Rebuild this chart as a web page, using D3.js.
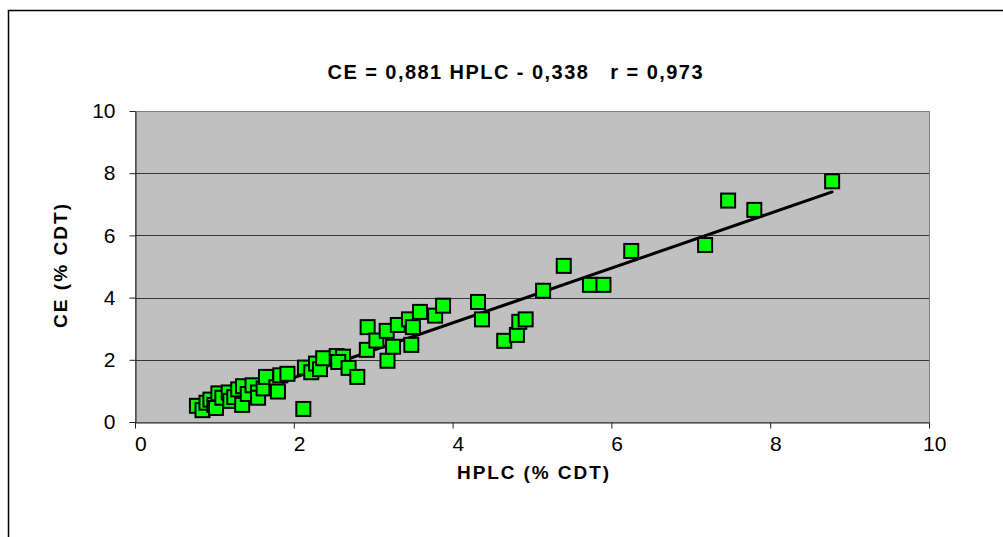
<!DOCTYPE html>
<html>
<head>
<script src="https://cdn.jsdelivr.net/npm/d3@7/dist/d3.min.js"></script>
</head>
<body style="margin:0px; background:#fff;">
<svg id="chart" width="1003" height="537"></svg>
<script>
// values: HPLC (% CDT) vs CE (% CDT)
var hplc = [0.78,0.85,0.90,0.95,1.00,1.02,1.05,1.10,1.18,1.20,1.25,1.30,1.35,1.36,1.42,1.48,1.55,1.55,1.62,1.65,1.78,1.80,1.83,1.92,
            2.12,2.14,2.22,2.28,2.33,2.37,2.54,2.62,2.56,2.69,2.80,
            2.92,2.93,3.04,3.17,3.18,3.25,3.31,3.45,3.48,3.50,3.59,3.78,3.88,
            4.32,4.37,4.65,4.81,4.84,4.92,5.14,5.40,5.73,5.90,
            6.25,7.18,7.47,7.80,8.78];
var ce   = [0.52,0.38,0.62,0.72,0.55,0.45,0.92,0.78,0.95,0.68,0.80,1.05,0.55,1.15,0.90,1.18,0.95,0.78,1.08,1.45,1.12,0.98,1.50,1.55,
            0.42,1.75,1.60,1.88,1.70,2.05,2.12,2.10,1.93,1.74,1.45,
            2.32,3.05,2.62,2.93,1.97,2.42,3.12,3.30,2.48,3.05,3.54,3.42,3.74,
            3.86,3.30,2.61,2.80,3.22,3.30,4.22,5.02,4.41,4.41,
            5.50,5.69,7.12,6.82,7.74];
var slope = 0.881, intercept = -0.338;
var xTicks = [0,2,4,6,8,10];
var yTicks = [0,2,4,6,8,10];
var titleText = "CE = 0,881 HPLC - 0,338   r = 0,973";

var svg = d3.select("#chart");
var pLeft = 135, pRight = 929, pTop = 111, pBottom = 422;
var font = "Liberation Sans, Arial, sans-serif";

// outer chart frame (runs off the window)
svg.append("rect").attr("x",8.5).attr("y",10.5).attr("width",1100).attr("height",600)
   .style("fill","none").style("stroke","#000").style("stroke-width","1.5px");

var x = d3.scaleLinear().domain([0,10]).range([pLeft,pRight]);
var y = d3.scaleLinear().domain([0,10]).range([pBottom,pTop]);

// plot area
svg.append("rect").attr("x",pLeft+0.5).attr("y",pTop+0.5).attr("width",pRight-pLeft).attr("height",pBottom-pTop)
   .style("fill","#c0c0c0").style("stroke","#808080").style("stroke-width","1px");

// gridlines
svg.append("g").selectAll("line").data(yTicks.filter(d => d > 0 && d < 10)).enter().append("line")
   .attr("x1",pLeft).attr("x2",pRight)
   .attr("y1",d => Math.round(y(d))+0.5).attr("y2",d => Math.round(y(d))+0.5)
   .style("stroke","#333").style("stroke-width","1px");

// axes
var xAxis = d3.axisBottom(x).tickValues(xTicks).tickSize(6).tickSizeOuter(0).tickPadding(8);
var yAxis = d3.axisLeft(y).tickValues(yTicks).tickSize(6).tickSizeOuter(0).tickPadding(14);
var gx = svg.append("g").attr("transform","translate(0," + (pBottom+0.5) + ")").call(xAxis);
var gy = svg.append("g").attr("transform","translate(" + (pLeft+0.5) + ",0)").call(yAxis);
[gx,gy].forEach(function(g){
  g.select(".domain").style("stroke","#222").style("stroke-width","1px");
  g.selectAll(".tick line").style("stroke","#222");
  g.selectAll(".tick text").style("font-family",font)
   .style("font-size","21px").style("fill","#000");
});
gx.selectAll(".tick text").attr("dx","0.25em");

// regression line over the data range
var xr = d3.extent(hplc);
svg.append("line")
   .attr("x1",x(xr[0])).attr("y1",y(slope*xr[0]+intercept))
   .attr("x2",x(xr[1])).attr("y2",y(slope*xr[1]+intercept))
   .style("stroke","#000").style("stroke-width","3px").style("stroke-linecap","round");

// points
var pts = hplc.map((d,i) => ({x:d, y:ce[i]}));
var s = 14;
svg.append("g").selectAll("rect").data(pts).enter().append("rect")
   .attr("x",d => x(d.x)-s/2).attr("y",d => y(d.y)-s/2)
   .attr("width",s).attr("height",s)
   .style("fill","#00ff00").style("stroke","#000").style("stroke-width","2px");

// titles
svg.append("text").attr("x",515).attr("y",79).attr("text-anchor","middle")
   .attr("xml:space","preserve").attr("textLength",375).attr("lengthAdjust","spacing")
   .style("font-family",font).style("font-weight","bold").style("font-size","20px")
   .style("white-space","pre").text(titleText);
svg.append("text").attr("x",533).attr("y",479).attr("text-anchor","middle")
   .attr("textLength",152).attr("lengthAdjust","spacing")
   .style("font-family",font).style("font-weight","bold").style("font-size","19px")
   .text("HPLC (% CDT)");
svg.append("text").attr("transform","translate(67,266) rotate(-90)").attr("text-anchor","middle")
   .attr("textLength",124).attr("lengthAdjust","spacing")
   .style("font-family",font).style("font-weight","bold").style("font-size","19px")
   .text("CE (% CDT)");
</script>
</body>
</html>
